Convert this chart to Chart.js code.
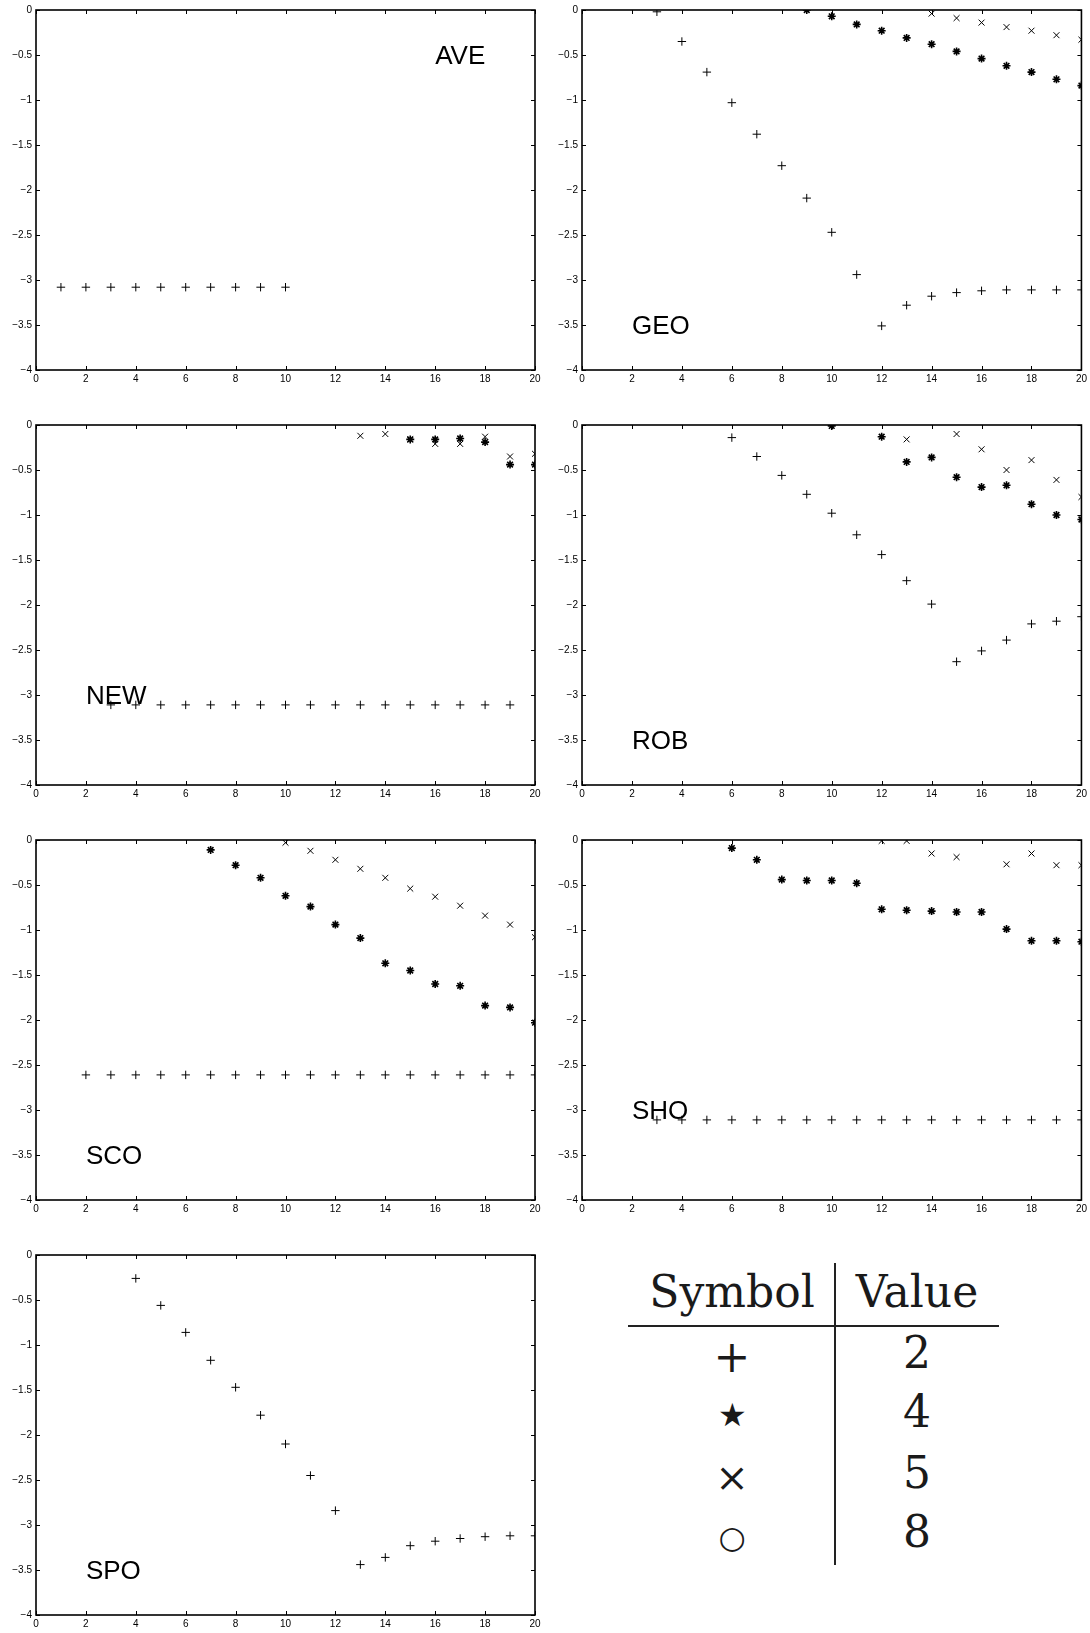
<!DOCTYPE html>
<html>
<head>
<meta charset="utf-8">
<script src="https://cdn.jsdelivr.net/npm/chart.js@4"></script>
<style>
  body{margin:0;background:#fff;width:1090px;height:1633px;position:relative;overflow:hidden}
  canvas{position:absolute}
  .cell{position:absolute;width:220px;text-align:center;white-space:nowrap;
        font-family:"DejaVu Serif",serif;font-size:44px;line-height:44px;color:#1a1a1a}
  .rule{position:absolute;background:#222}
</style>
</head>
<body>
<script>
// steps 1..20 on the x axis
const steps = [1,2,3,4,5,6,7,8,9,10,11,12,13,14,15,16,17,18,19,20];

// AVE
const ave2 = [-3.08,-3.08,-3.08,-3.08,-3.08,-3.08,-3.08,-3.08,-3.08,-3.08,null,null,null,null,null,null,null,null,null,null];

// GEO
const geo2 = [null,null,-0.02,-0.35,-0.69,-1.03,-1.38,-1.73,-2.09,-2.47,-2.94,-3.51,-3.28,-3.18,-3.14,-3.12,-3.11,-3.11,-3.11,-3.11];
const geo4 = [null,null,null,null,null,null,null,null,0,-0.07,-0.16,-0.23,-0.31,-0.38,-0.46,-0.54,-0.62,-0.69,-0.77,-0.84];
const geo5 = [null,null,null,null,null,null,null,null,null,null,null,null,null,-0.04,-0.09,-0.14,-0.19,-0.23,-0.28,-0.33];

// NEW
const new2 = [null,null,-3.11,-3.11,-3.11,-3.11,-3.11,-3.11,-3.11,-3.11,-3.11,-3.11,-3.11,-3.11,-3.11,-3.11,-3.11,-3.11,-3.11,null];
const new4 = [null,null,null,null,null,null,null,null,null,null,null,null,null,null,-0.16,-0.16,-0.15,-0.19,-0.44,-0.44];
const new5 = [null,null,null,null,null,null,null,null,null,null,null,null,-0.12,-0.10,-0.16,-0.21,-0.21,-0.13,-0.35,-0.32];

// ROB
const rob2 = [null,null,null,null,null,-0.14,-0.35,-0.56,-0.77,-0.98,-1.22,-1.44,-1.73,-1.99,-2.63,-2.51,-2.39,-2.21,-2.18,-2.13];
const rob4 = [null,null,null,null,null,null,null,null,null,-0.01,null,-0.13,-0.41,-0.36,-0.58,-0.69,-0.67,-0.88,-1.00,-1.05];
const rob5 = [null,null,null,null,null,null,null,null,null,null,null,null,-0.16,null,-0.10,-0.27,-0.50,-0.39,-0.61,-0.80];

// SCO
const sco2 = [null,-2.61,-2.61,-2.61,-2.61,-2.61,-2.61,-2.61,-2.61,-2.61,-2.61,-2.61,-2.61,-2.61,-2.61,-2.61,-2.61,-2.61,-2.61,-2.61];
const sco4 = [null,null,null,null,null,null,-0.11,-0.28,-0.42,-0.62,-0.74,-0.94,-1.09,-1.37,-1.45,-1.60,-1.62,-1.84,-1.86,-2.03];
const sco5 = [null,null,null,null,null,null,null,null,null,-0.03,-0.12,-0.22,-0.32,-0.42,-0.54,-0.63,-0.73,-0.84,-0.94,-1.08];

// SHO
const sho2 = [null,null,-3.11,-3.11,-3.11,-3.11,-3.11,-3.11,-3.11,-3.11,-3.11,-3.11,-3.11,-3.11,-3.11,-3.11,-3.11,-3.11,-3.11,-3.11];
const sho4 = [null,null,null,null,null,-0.09,-0.22,-0.44,-0.45,-0.45,-0.48,-0.77,-0.78,-0.79,-0.80,-0.80,-0.99,-1.12,-1.12,-1.13];
const sho5 = [null,null,null,null,null,null,null,null,null,null,null,-0.01,-0.01,-0.15,-0.19,null,-0.27,-0.15,-0.28,-0.28];

// SPO
const spo2 = [null,null,null,-0.26,-0.56,-0.86,-1.17,-1.47,-1.78,-2.10,-2.45,-2.84,-3.44,-3.36,-3.23,-3.18,-3.15,-3.13,-3.12,-3.12];

// tick labels
const xTicks = [0,2,4,6,8,10,12,14,16,18,20];
const yTicks = [0,-0.5,-1,-1.5,-2,-2.5,-3,-3.5,-4];

// legend table
const tblSymbols = ['+','\u2605','\u00D7','\u25CB'];
const tblValues = ['2','4','5','8'];

const panels = [
  {name:'AVE', s2:ave2, s4:null, s5:null, lx:16, ly:-0.5},
  {name:'GEO', s2:geo2, s4:geo4, s5:geo5, lx:2, ly:-3.5},
  {name:'NEW', s2:new2, s4:new4, s5:new5, lx:2, ly:-3.0},
  {name:'ROB', s2:rob2, s4:rob4, s5:rob5, lx:2, ly:-3.5},
  {name:'SCO', s2:sco2, s4:sco4, s5:sco5, lx:2, ly:-3.5},
  {name:'SHO', s2:sho2, s4:sho4, s5:sho5, lx:2, ly:-3.0},
  {name:'SPO', s2:spo2, s4:null, s5:null, lx:2, ly:-3.5}
];

Chart.defaults.font.family = '"Liberation Sans", Arial, sans-serif';

function pts(arr){
  if(!arr) return [];
  return steps.map((x,i)=> arr[i]==null ? null : {x:x, y:arr[i]}).filter(Boolean);
}
function minus(v){ return v===0 ? '0' : String(v).replace('-','\u2212'); }

// matlab-ish box with inward ticks + the panel name
const frame = {
  id:'frame',
  afterDraw(chart){
    const {ctx, chartArea:a, scales:{x,y}} = chart;
    const o = chart.options.plugins.frame || {};
    ctx.save();
    ctx.strokeStyle = '#000'; ctx.lineWidth = 1.6;
    ctx.strokeRect(a.left, a.top, a.right-a.left, a.bottom-a.top);
    ctx.lineWidth = 1;
    ctx.beginPath();
    xTicks.forEach(v=>{
      const px = Math.round(x.getPixelForValue(v))+0.5;
      ctx.moveTo(px,a.bottom); ctx.lineTo(px,a.bottom-4);
      ctx.moveTo(px,a.top); ctx.lineTo(px,a.top+4);
    });
    yTicks.forEach(v=>{
      const py = Math.round(y.getPixelForValue(v))+0.5;
      ctx.moveTo(a.left,py); ctx.lineTo(a.left+4,py);
      ctx.moveTo(a.right,py); ctx.lineTo(a.right-4,py);
    });
    ctx.stroke();
    if(o.text){
      ctx.fillStyle = '#000';
      ctx.font = '26px "Liberation Sans", Arial, sans-serif';
      ctx.textBaseline = 'alphabetic';
      ctx.fillText(o.text, x.getPixelForValue(o.x), y.getPixelForValue(o.y) + 26*0.358);
    }
    ctx.restore();
  }
};

panels.forEach((p,i)=>{
  const col = i%2, row = Math.floor(i/2);
  const cv = document.createElement('canvas');
  cv.width = 545; cv.height = 405;
  cv.style.left = (col ? 545 : 0) + 'px';
  cv.style.top = (row*415) + 'px';
  document.body.appendChild(cv);

  const mk = (arr, style, r, bw) => ({
    data: pts(arr), showLine:false,
    pointStyle: style, pointRadius: r, pointHoverRadius: r,
    borderColor:'#000', backgroundColor:'#000',
    pointBorderColor:'#000', pointBorderWidth: bw
  });
  const datasets = [mk(p.s2,'cross',4.2,1)];
  if(p.s4) datasets.push(mk(p.s4,'star',4,1.6));
  if(p.s5) datasets.push(mk(p.s5,'crossRot',4.2,1));

  new Chart(cv, {
    type:'scatter',
    data:{datasets},
    options:{
      responsive:false, animation:false, devicePixelRatio:1,
      layout:{padding:{top:10, right: col ? 7 : 10, left:0, bottom:0}},
      plugins:{legend:{display:false}, tooltip:{enabled:false},
               frame:{text:p.name, x:p.lx, y:p.ly}},
      scales:{
        x:{type:'linear', min:0, max:20,
           afterBuildTicks(s){ s.ticks = xTicks.map(v=>({value:v})); },
           ticks:{color:'#000', font:{size:10}, padding:3, maxRotation:0, autoSkip:false},
           grid:{display:false, drawTicks:false}, border:{display:false},
           afterFit(s){ s.height = 35; }},
        y:{type:'linear', min:-4, max:0,
           afterBuildTicks(s){ s.ticks = yTicks.map(v=>({value:v})); },
           ticks:{color:'#000', font:{size:10}, padding:4, autoSkip:false, callback:v=>minus(v)},
           grid:{display:false, drawTicks:false}, border:{display:false},
           afterFit(s){ s.width = col ? 37 : 36; }}
      }
    },
    plugins:[frame]
  });
});

// symbol / value table
function add(cls, css, text){
  const d = document.createElement('div');
  d.className = cls;
  Object.assign(d.style, css);
  if(text!=null) d.textContent = text;
  document.body.appendChild(d);
}
add('rule', {left:'834px', top:'1263px', width:'2px', height:'302px'});
add('rule', {left:'628px', top:'1325px', width:'371px', height:'2px'});
add('cell', {left:(732-110)+'px', top:'1270px'}, 'Symbol');
add('cell', {left:(917-110)+'px', top:'1270px'}, 'Value');
const valTops = [1331,1390,1451,1510];
const symTops = [1335,1393,1455,1515];
const symSizes = ['44px','32px','40px','31px'];
tblSymbols.forEach((s,i)=>{
  add('cell', {left:(732-110)+'px', top:symTops[i]+'px', fontSize:symSizes[i]}, s);
  add('cell', {left:(917-110)+'px', top:valTops[i]+'px'}, tblValues[i]);
});
</script>
</body>
</html>
